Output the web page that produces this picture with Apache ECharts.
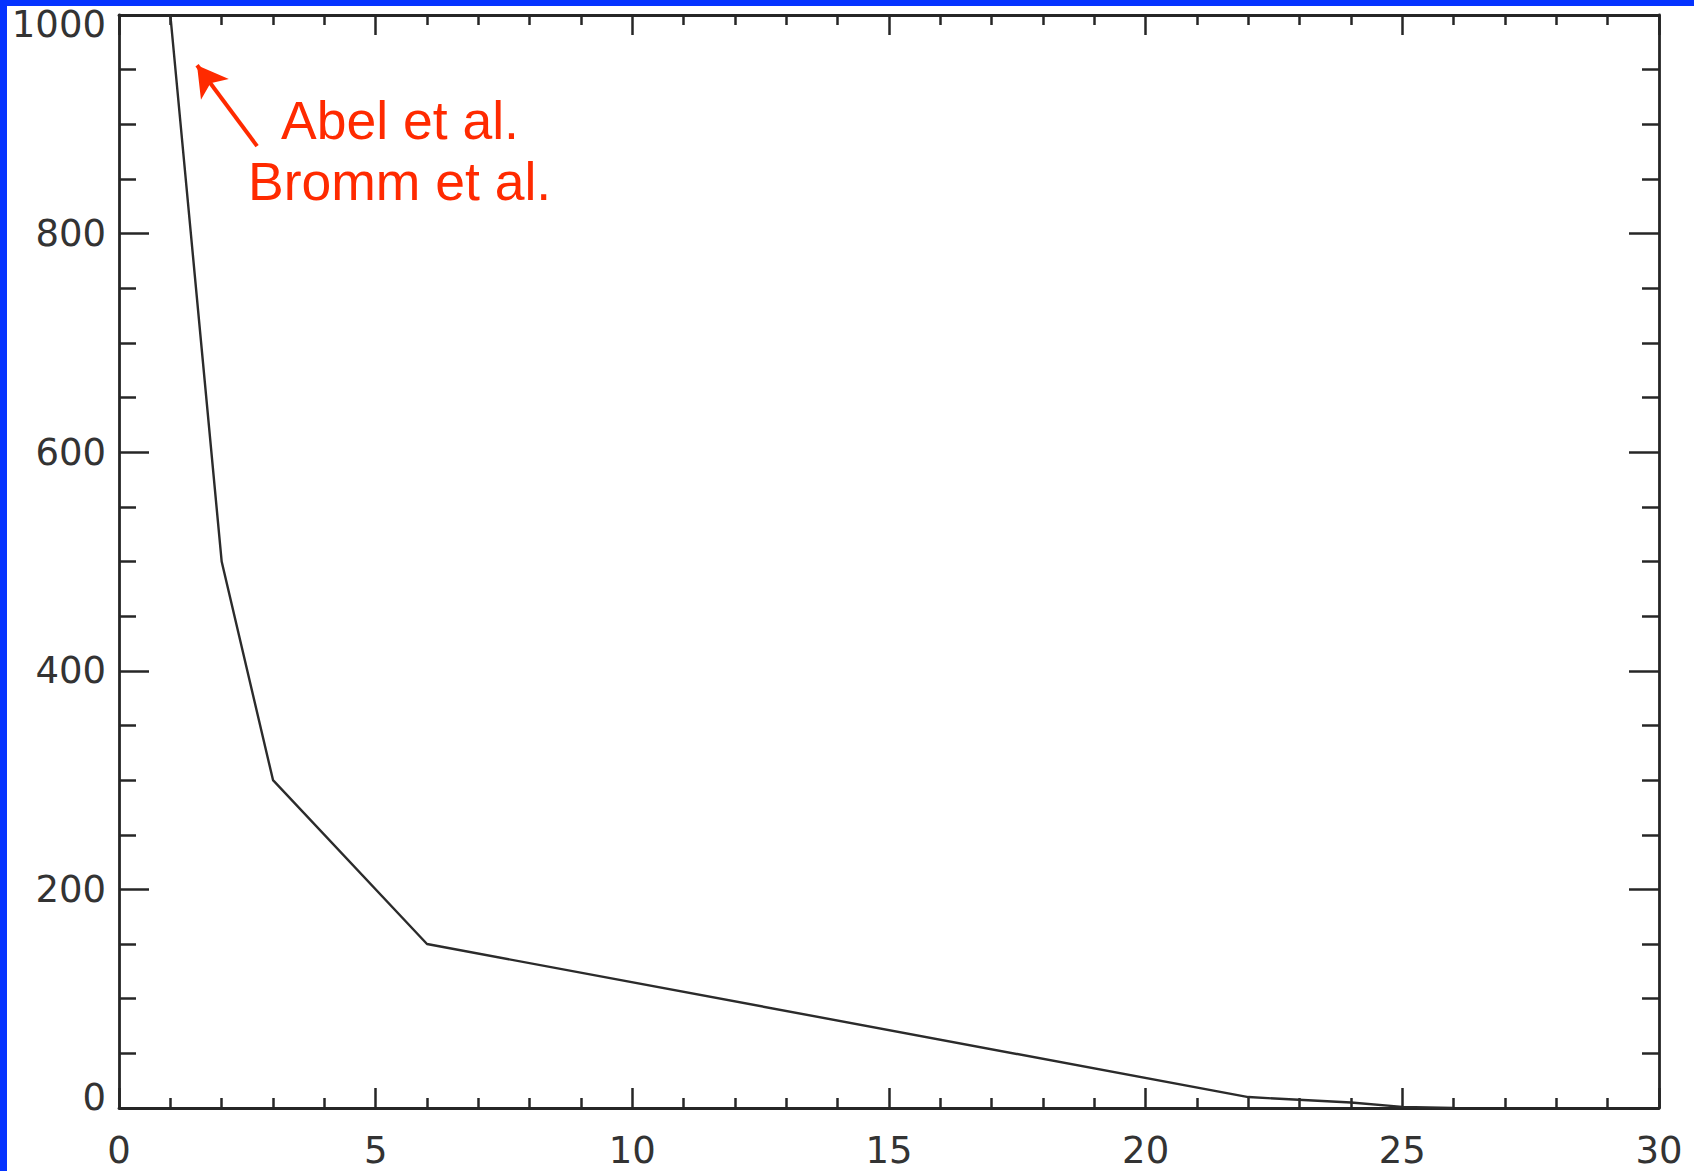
<!DOCTYPE html>
<html>
<head>
<meta charset="utf-8">
<style>
  html, body { margin: 0; padding: 0; background: #ffffff; }
  #chart { width: 1694px; height: 1171px; }
</style>
<script src="https://cdn.jsdelivr.net/npm/echarts@6/dist/echarts.min.js"></script>
</head>
<body>
<div id="chart"></div>
<script>
// ---- data ----
const xValues = [1, 2, 3, 6, 22, 24, 25, 26];
const yValues = [1000, 500, 300, 150, 10, 5, 1, 0];
const xRange = [0, 30];
const yRange = [0, 1000];
const xMajorStep = 5;
const yMajorStep = 200;
const annotationLines = ['Abel et al.', 'Bromm et al.'];
const arrowFrom = [2.69, 880];
const arrowTo = [1.52, 954];

const AXIS_COLOR = '#262626';
const LABEL_COLOR = '#333333';
const RED = '#ff2a00';
const BLUE = '#0533ff';
const LABEL_FONT = 'DejaVu Sans';

const chart = echarts.init(document.getElementById('chart'), null, { renderer: 'svg' });

function axisCommon(extra) {
  return Object.assign({
    type: 'value',
    axisLine: { show: true, onZero: false, lineStyle: { color: AXIS_COLOR, width: 2.8 } },
    splitLine: { show: false },
  }, extra);
}

const xTick = { show: true, inside: true, length: 20, lineStyle: { color: AXIS_COLOR, width: 2.5 } };
const xMinor = { show: true, splitNumber: 5, length: 10, lineStyle: { color: AXIS_COLOR, width: 2.5 } };
const yTick = { show: true, inside: true, length: 30, lineStyle: { color: AXIS_COLOR, width: 2.5 } };
const yMinor = { show: true, splitNumber: 4, length: 17, lineStyle: { color: AXIS_COLOR, width: 2.5 } };

const yLabelRich = {
  n: { fontFamily: LABEL_FONT, fontSize: 37, color: LABEL_COLOR },
  lo: { fontFamily: LABEL_FONT, fontSize: 37, color: LABEL_COLOR, padding: [0, 0, 22, 0] },
  hi: { fontFamily: LABEL_FONT, fontSize: 37, color: LABEL_COLOR, padding: [18, 0, 0, 0] }
};

const option = {
  backgroundColor: '#ffffff',
  animation: false,
  grid: { left: 119, right: 35, top: 15, bottom: 63, containLabel: false },
  xAxis: [
    axisCommon({
      position: 'bottom', min: xRange[0], max: xRange[1], interval: xMajorStep,
      axisTick: xTick, minorTick: xMinor,
      axisLabel: { show: true, margin: 24, fontFamily: LABEL_FONT, fontSize: 37, color: LABEL_COLOR }
    }),
    axisCommon({
      position: 'top', min: xRange[0], max: xRange[1], interval: xMajorStep,
      axisTick: xTick, minorTick: xMinor, axisLabel: { show: false }
    })
  ],
  yAxis: [
    axisCommon({
      position: 'left', min: yRange[0], max: yRange[1], interval: yMajorStep,
      axisTick: yTick, minorTick: yMinor,
      axisLabel: {
        show: true, margin: 13, fontFamily: LABEL_FONT, fontSize: 37, color: LABEL_COLOR,
        formatter: function (v) {
          if (v === yRange[0]) return '{lo|' + v + '}';
          if (v === yRange[1]) return '{hi|' + v + '}';
          return '{n|' + v + '}';
        },
        rich: yLabelRich
      }
    }),
    axisCommon({
      position: 'right', min: yRange[0], max: yRange[1], interval: yMajorStep,
      axisTick: yTick, minorTick: yMinor, axisLabel: { show: false }
    })
  ],
  series: [
    {
      type: 'line',
      xAxisIndex: 0,
      yAxisIndex: 0,
      data: xValues.map((x, i) => [x, yValues[i]]),
      showSymbol: false,
      symbol: 'none',
      clip: true,
      lineStyle: { color: '#2b2b2b', width: 2.4 },
      markLine: {
        silent: true,
        animation: false,
        symbol: ['none', 'arrow'],
        symbolSize: [26, 30],
        label: { show: false },
        lineStyle: { color: RED, width: 4, type: 'solid' },
        data: [[{ coord: arrowFrom }, { coord: arrowTo }]]
      }
    }
  ],
  graphic: [
    { type: 'rect', left: 0, top: 0, shape: { width: 7, height: 1171 }, style: { fill: BLUE }, silent: true },
    { type: 'rect', left: 0, top: 0, shape: { width: 1694, height: 6 }, style: { fill: BLUE }, silent: true },
    {
      type: 'text', left: 281, top: 120 - 27,
      style: { text: annotationLines[0], fill: RED, font: '53.5px "Liberation Sans", Arial, sans-serif' }
    },
    {
      type: 'text', left: 248, top: 181 - 27,
      style: { text: annotationLines[1], fill: RED, font: '53.5px "Liberation Sans", Arial, sans-serif' }
    }
  ]
};

chart.setOption(option);
</script>
</body>
</html>
